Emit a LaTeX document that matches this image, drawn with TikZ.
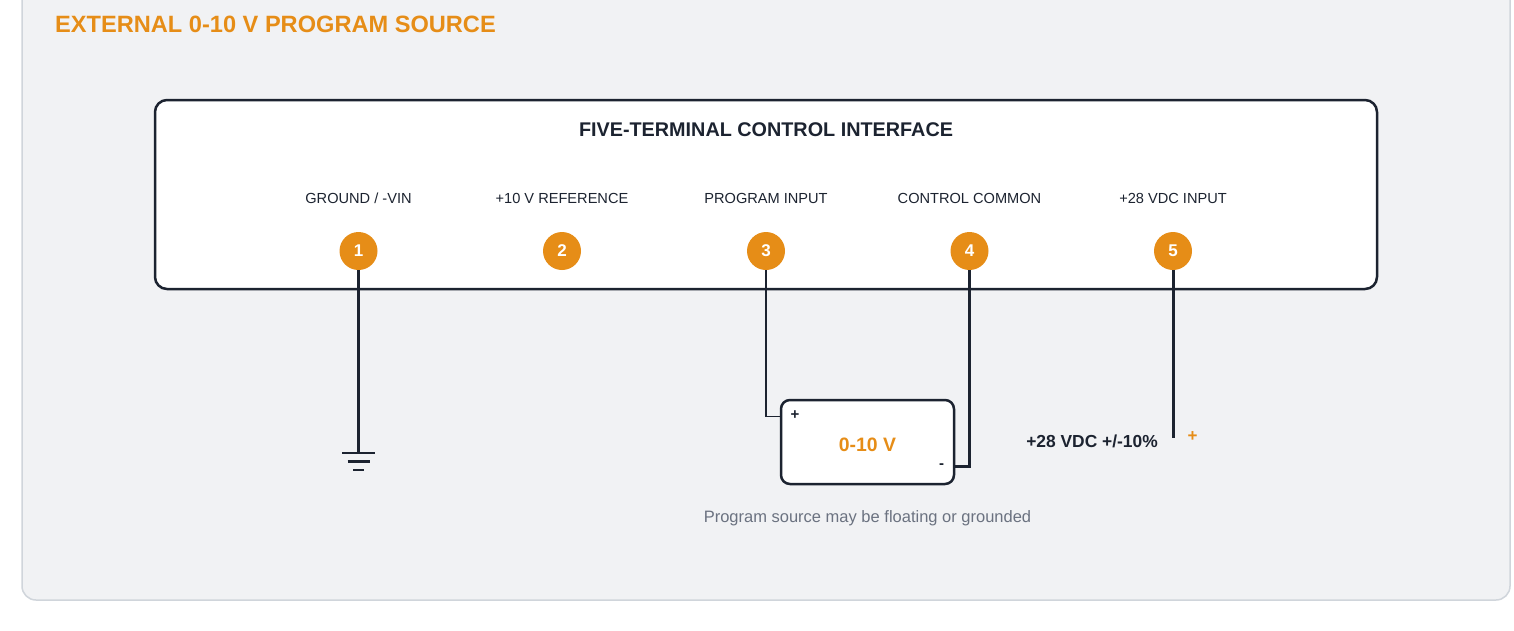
\documentclass[tikz,border=0pt]{standalone}
\usepackage{fontspec}
\setmainfont{Liberation Sans}
\definecolor{panelbg}{HTML}{F1F2F4}
\definecolor{panelbd}{HTML}{D0D5DB}
\definecolor{ink}{HTML}{1C2330}
\definecolor{accent}{HTML}{E68D17}
\definecolor{muted}{HTML}{6B7280}
\tikzset{
  thinwire/.style={draw=ink, line width=1.8pt},
  thickwire/.style={draw=ink, line width=3pt},
  term/.style={circle, fill=accent, minimum size=38pt, inner sep=0pt, text=white, font=\fontsize{17}{20}\selectfont\bfseries},
  tlabel/.style={text=ink, font=\fontsize{14.6}{17}\selectfont, inner sep=0pt},
  box/.style={draw=ink, fill=white, line width=2.5pt, rounded corners=12pt, inner sep=0pt},
  pol/.style={text=ink, font=\fontsize{15}{17}\selectfont\bfseries, inner sep=0pt},
}
\begin{document}
\begin{tikzpicture}[x=1pt,y=-1pt]
\useasboundingbox (0,0) rectangle (1514,630);
\fill[white] (0,0) rectangle (1514,630);
% panel
\draw[fill=panelbg, draw=panelbd, line width=1.5pt, rounded corners=14pt] (22,-30) rectangle (1510,600);
% title
\node[anchor=base west, text=accent, font=\fontsize{23.6}{28}\selectfont\bfseries, inner sep=0pt] (title) at (55,32) {EXTERNAL 0-10 V PROGRAM SOURCE};
% interface box
\node[box, minimum width=1222pt, minimum height=189pt] (iface) at (766,194.5) {};
\node[text=ink, font=\fontsize{19.8}{24}\selectfont\bfseries, inner sep=0pt, anchor=base] (ifhead) at (766,136) {FIVE-TERMINAL CONTROL INTERFACE};
% terminal labels
\node[tlabel, anchor=base] (l1) at (358.5,203) {GROUND / -VIN};
\node[tlabel, anchor=base] (l2) at (562,203) {+10 V REFERENCE};
\node[tlabel, anchor=base] (l3) at (766,203) {PROGRAM INPUT};
\node[tlabel, anchor=base] (l4) at (969.5,203) {CONTROL COMMON};
\node[tlabel, anchor=base] (l5) at (1173,203) {+28 VDC INPUT};
% terminals
\node[term] (t1) at (358.5,251) {1};
\node[term] (t2) at (562,251) {2};
\node[term] (t3) at (766,251) {3};
\node[term] (t4) at (969.5,251) {4};
\node[term] (t5) at (1173,251) {5};
% ground
\coordinate (gnd) at (358.5,453);
\draw[thickwire] (t1.south) -- (gnd);
\draw[ink, line width=2.5pt] ([xshift=-16.5pt]gnd) -- ([xshift=16.5pt]gnd);
\draw[ink, line width=2.5pt] ([xshift=-11pt,yshift=-8.5pt]gnd) -- ([xshift=11pt,yshift=-8.5pt]gnd);
\draw[ink, line width=2.5pt] ([xshift=-5.5pt,yshift=-17pt]gnd) -- ([xshift=5.5pt,yshift=-17pt]gnd);
% program source
\node[box, rounded corners=9pt, minimum width=173pt, minimum height=84pt] (src) at (867.5,442) {};
\node[text=accent, font=\fontsize{19.4}{23}\selectfont\bfseries, inner sep=0pt] (srclbl) at (867.5,445) {0-10 V};
\node[pol] (srcplus) at (795,415.5) {+};
\node[pol] (srcminus) at (941.5,466) {-};
\coordinate (srcp) at (781,416.5);
\coordinate (srcm) at (954,466.5);
\draw[thinwire] (t3.south) |- (srcp);
\draw[thickwire] (t4.south) |- (srcm);
\node[text=muted, font=\fontsize{16.5}{20}\selectfont, inner sep=0pt, anchor=base] (note) at (867.5,522) {Program source may be floating or grounded};
% +28 VDC
\coordinate (v28) at (1173,438);
\draw[thickwire] (t5.south) -- (v28);
\node[text=accent, font=\fontsize{17}{20}\selectfont\bfseries, inner sep=0pt] (v28plus) at (1192.5,437) {+};
\node[text=ink, font=\fontsize{17.4}{20}\selectfont\bfseries, inner sep=0pt, anchor=base east] (v28lbl) at (1158,447) {+28 VDC +/-10\%};
\end{tikzpicture}
\end{document}
